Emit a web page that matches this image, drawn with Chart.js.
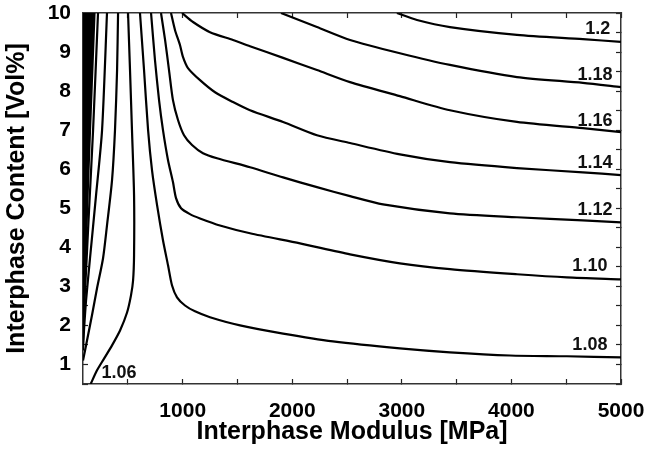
<!DOCTYPE html>
<html>
<head>
<meta charset="utf-8">
<script src="https://cdn.jsdelivr.net/npm/chart.js@4.4.1/dist/chart.umd.min.js"></script>
<style>
  body { margin: 0; background: #fff; }
</style>
</head>
<body>
<canvas id="contour" width="649" height="457"></canvas>
<script>
// axis ranges and ticks
const xMin = 90, xMax = 5000;
const yMin = 0.5, yMax = 10;
const xTicks = [500, 1000, 1500, 2000, 2500, 3000, 3500, 4000, 4500, 5000];
const yTicks = [0.5, 1, 1.5, 2, 2.5, 3, 3.5, 4, 4.5, 5, 5.5, 6, 6.5, 7, 7.5, 8, 8.5, 9, 9.5, 10];

// contour lines: [modulus MPa, content Vol%]
// the packed band next to the left axis
const band1 = [[100, 10], [92, 7.0], [90, 5.5]];
const band2 = [[109, 10], [95, 7.0], [90, 4.69]];
const band3 = [[118, 10], [99, 7.0], [90, 4.2]];
const band4 = [[127, 10], [104, 7.0], [90, 3.67]];
const band5 = [[138, 10], [111, 7.0], [94, 4.69], [90, 3.3]];
const band6 = [[150, 10], [118, 7.0], [99, 4.69], [90, 2.9]];
const band7 = [[160, 10], [127, 7.0], [104, 4.69], [90, 2.6]];
const band8 = [[172, 10], [136, 7.0], [109, 4.69], [90, 2.38]];
const band9 = [[183, 10], [145, 7.0], [118, 4.82], [99, 3.2], [90, 2.2]];
const band10 = [[195, 10], [154, 7.0], [127, 4.95], [109, 3.41], [90, 2.0]];
const lvl100 = [[227, 10], [182, 7.0], [145, 4.95], [118, 3.41], [99, 2.38], [90, 1.62]];
const lvl102 = [[309, 10], [264, 7.0], [209, 5.33], [154, 3.72], [118, 2.64], [99, 1.87], [90, 1.36]];
const lvl104 = [[410, 10], [401, 8.54], [382, 7.0], [355, 5.72], [309, 4.56], [273, 3.72], [218, 2.95],
  [172, 2.26], [127, 1.62], [90, 1.1]];
const lvl106 = [[501, 10], [519, 8.54], [537, 7.0], [556, 5.33], [556, 3.8], [547, 3.15], [528, 2.77],
  [492, 2.33], [428, 1.87], [355, 1.49], [282, 1.15], [218, 0.85], [160, 0.5]];
const lvl108 = [[610, 10], [647, 8.54], [684, 7.0], [720, 5.97], [766, 5.08], [820, 4.18], [866, 3.54],
  [902, 3.03], [948, 2.72], [1021, 2.51], [1112, 2.36], [1249, 2.21], [1523, 2.0], [1916, 1.79],
  [2371, 1.59], [2982, 1.41], [3439, 1.31], [3987, 1.23], [4506, 1.21], [5000, 1.18]];
const lvl110 = [[711, 10], [747, 8.79], [784, 7.77], [820, 7.0], [866, 6.23], [911, 5.67], [939, 5.26],
  [985, 5.0], [1066, 4.85], [1158, 4.74], [1340, 4.56], [1614, 4.36], [2070, 4.1], [2527, 3.82],
  [2982, 3.59], [3439, 3.44], [4050, 3.31], [4506, 3.23], [5000, 3.18]];
const lvl112 = [[802, 10], [839, 9.31], [875, 8.54], [911, 7.77], [957, 7.26], [1012, 6.87], [1085, 6.62],
  [1185, 6.41], [1313, 6.28], [1614, 6.05], [1916, 5.79], [2225, 5.54], [2527, 5.31], [2828, 5.1],
  [3439, 4.87], [4050, 4.77], [4652, 4.69], [5000, 4.64]];
const lvl114 = [[893, 10], [930, 9.56], [975, 9.18], [1003, 8.87], [1048, 8.59], [1158, 8.28], [1295, 7.97],
  [1459, 7.72], [1614, 7.51], [1916, 7.21], [2225, 6.87], [2527, 6.67], [2982, 6.38], [3439, 6.18],
  [4050, 6.03], [4652, 5.92], [5000, 5.85]];
const lvl116 = [[994, 10], [1094, 9.77], [1249, 9.51], [1459, 9.31], [1614, 9.15], [1916, 8.85], [2225, 8.54],
  [2527, 8.23], [2982, 7.87], [3439, 7.51], [4050, 7.21], [4652, 7.05], [5000, 6.95]];
const lvl118 = [[1897, 10], [2225, 9.64], [2527, 9.31], [2982, 8.97], [3439, 8.67], [4050, 8.36],
  [4652, 8.21], [5000, 8.1]];
const lvl120 = [[2955, 10], [3138, 9.82], [3439, 9.64], [4050, 9.44], [4652, 9.33], [5000, 9.26]];

const contours = [band1, band2, band3, band4, band5, band6, band7, band8, band9, band10,
  lvl100, lvl102, lvl104, lvl106, lvl108, lvl110, lvl112, lvl114, lvl116, lvl118, lvl120];

// inline contour labels
const labelText = ['1.2', '1.18', '1.16', '1.14', '1.12', '1.10', '1.08', '1.06'];
const labelX = [4787, 4762, 4762, 4762, 4762, 4716, 4716, 419];
const labelY = [9.59, 8.41, 7.23, 6.15, 4.95, 3.51, 1.49, 0.79];

const FONT = "'Liberation Sans', Arial, Helvetica, sans-serif";

const contourLabels = {
  id: 'contourLabels',
  afterDatasetsDraw(chart) {
    const { ctx } = chart;
    const sx = chart.scales.x, sy = chart.scales.y;
    ctx.save();
    ctx.font = 'bold 18px ' + FONT;
    ctx.fillStyle = '#111';
    ctx.textAlign = 'center';
    ctx.textBaseline = 'middle';
    labelText.forEach((t, i) => {
      ctx.fillText(t, sx.getPixelForValue(labelX[i]), sy.getPixelForValue(labelY[i]));
    });
    ctx.restore();
  }
};

// fixed box sizes, and no extra room asked for the end labels
function fixBox(w, h) {
  return (s) => {
    if (w !== null) s.width = w;
    if (h !== null) s.height = h;
    s.paddingLeft = s.paddingRight = s.paddingTop = s.paddingBottom = 0;
  };
}

// shared axis pieces (ticks point inward)
const gridOpts = { drawOnChartArea: false, tickLength: -5, tickColor: '#222', tickWidth: 1.2 };
const borderOpts = { display: true, color: '#333', width: 1.5 };

new Chart(document.getElementById('contour'), {
  type: 'scatter',
  data: {
    datasets: contours.map((pts) => ({
      data: pts.map((p) => ({ x: p[0], y: p[1] })),
      showLine: true,
      borderColor: '#000',
      borderWidth: 2.2,
      pointRadius: 0,
      tension: 0.25,
      clip: 0
    }))
  },
  options: {
    responsive: false,
    animation: false,
    layout: { padding: { top: 13, right: 28, left: 0, bottom: 0 } },
    plugins: { legend: { display: false }, tooltip: { enabled: false } },
    scales: {
      x: {
        type: 'linear', position: 'bottom', min: xMin, max: xMax,
        afterBuildTicks: (s) => { s.ticks = xTicks.map((v) => ({ value: v })); },
        afterFit: fixBox(null, 73),
        grid: gridOpts,
        border: borderOpts,
        ticks: {
          autoSkip: false, maxRotation: 0, padding: 20, color: '#000',
          font: { family: FONT, size: 21, weight: 'bold' },
          callback: (v) => (v % 1000 === 0 ? String(v) : '')
        },
        title: {
          display: true, text: 'Interphase Modulus [MPa]', color: '#000',
          font: { family: FONT, size: 25, weight: 'bold' },
          padding: { top: 0, bottom: 10 }
        }
      },
      y: {
        type: 'linear', position: 'left', min: yMin, max: yMax,
        afterBuildTicks: (s) => { s.ticks = yTicks.map((v) => ({ value: v })); },
        afterFit: fixBox(83, null),
        grid: gridOpts,
        border: borderOpts,
        ticks: {
          autoSkip: false, padding: 17, color: '#000',
          font: { family: FONT, size: 21, weight: 'bold' },
          callback: (v) => (Number.isInteger(v) ? String(v) : '')
        },
        title: {
          display: true, text: 'Interphase Content [Vol%]', color: '#000',
          font: { family: FONT, size: 25, weight: 'bold' },
          padding: { top: 2, bottom: 0 }
        }
      },
      xTop: {
        type: 'linear', position: 'top', min: xMin, max: xMax,
        afterBuildTicks: (s) => { s.ticks = xTicks.map((v) => ({ value: v })); },
        afterFit: fixBox(null, 0),
        grid: gridOpts,
        border: borderOpts,
        ticks: { display: false }
      },
      yRight: {
        type: 'linear', position: 'right', min: yMin, max: yMax,
        afterBuildTicks: (s) => { s.ticks = yTicks.map((v) => ({ value: v })); },
        afterFit: fixBox(0, null),
        grid: gridOpts,
        border: borderOpts,
        ticks: { display: false }
      }
    }
  },
  plugins: [contourLabels]
});
</script>
</body>
</html>
